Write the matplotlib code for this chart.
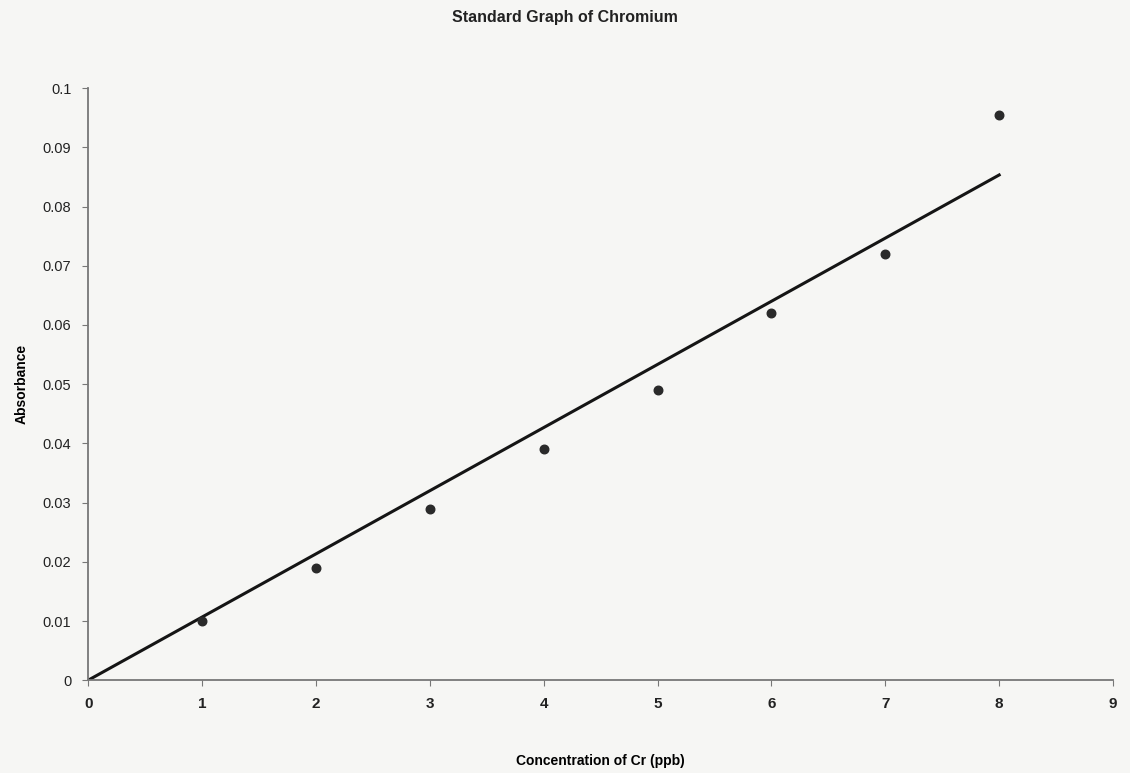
import numpy as np
import matplotlib
matplotlib.use("Agg")
import matplotlib.pyplot as plt

plt.rcParams['font.family'] = ['Liberation Sans', 'DejaVu Sans']

conc = [1, 2, 3, 4, 5, 6, 7, 8]
absorb = [0.010, 0.019, 0.029, 0.039, 0.049, 0.062, 0.072, 0.0955]
x_ticks = [0, 1, 2, 3, 4, 5, 6, 7, 8, 9]
y_ticks = [0, 0.01, 0.02, 0.03, 0.04, 0.05, 0.06, 0.07, 0.08, 0.09, 0.1]

# linear trend forced through the origin
x = np.array(conc, dtype=float)
y = np.array(absorb)
slope = (x * y).sum() / (x * x).sum()
fit_x = np.array([0, x.max()])
fit_y = slope * fit_x

bg = "#f6f6f4"
fig = plt.figure(figsize=(11.3, 7.73), dpi=100, facecolor=bg)
ax = fig.add_axes([0.078, 0.12, 0.907, 0.766], facecolor=bg)

ax.plot(fit_x, fit_y, color="#151515", lw=2.2, zorder=2)
ax.scatter(conc, absorb, s=38, color="#2a2a2a", zorder=3)

ax.set_xlim(0, 9)
ax.set_ylim(0, 0.1)
ax.set_xticks(x_ticks)
ax.set_yticks(y_ticks)
ax.set_xticklabels([str(t) for t in x_ticks], fontweight="bold", fontsize=11)
ax.set_yticklabels(["0"] + ["%g" % t for t in y_ticks[1:]], fontsize=10.5)

for s in ["top", "right"]:
    ax.spines[s].set_visible(False)
for s in ["left", "bottom"]:
    ax.spines[s].set_color("#777777")
    ax.spines[s].set_linewidth(1.3)
ax.tick_params(axis="both", direction="out", length=4, color="#777777", colors="#222222")
ax.tick_params(axis="x", pad=8)
ax.tick_params(axis="y", pad=8)

ax.set_xlabel("Concentration of Cr (ppb)", fontsize=10, fontweight="bold", labelpad=31)
ax.set_ylabel("Absorbance", fontsize=10, fontweight="bold", labelpad=10)
fig.text(0.5, 0.978, "Standard Graph of Chromium", ha="center", va="center",
         fontsize=11.5, fontweight="bold", color="#222222")

fig.savefig("out.png", dpi=100, facecolor=bg)
